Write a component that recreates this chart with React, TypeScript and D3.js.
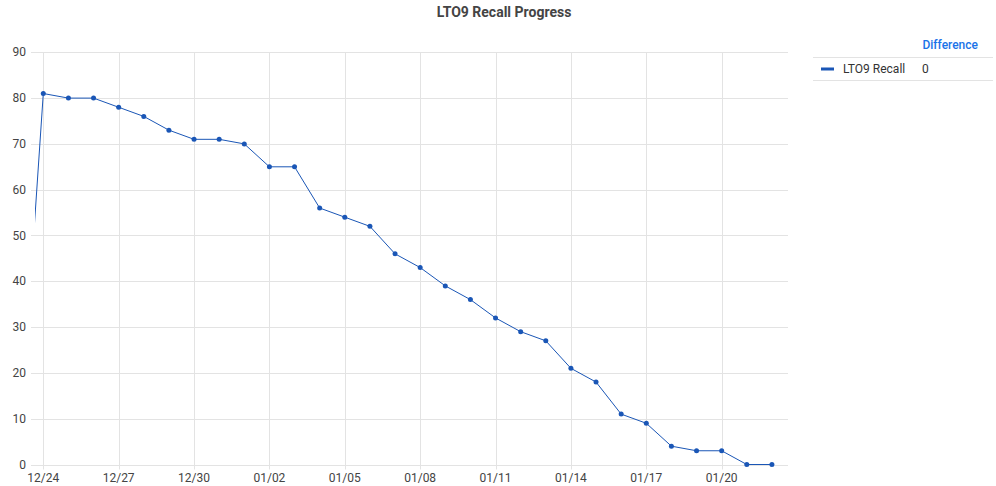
import { useEffect, useRef } from "react";
import * as d3 from "d3";

const dates = [
  "2023-12-23", "2023-12-24", "2023-12-25", "2023-12-26", "2023-12-27", "2023-12-28",
  "2023-12-29", "2023-12-30", "2023-12-31", "2024-01-01", "2024-01-02", "2024-01-03",
  "2024-01-04", "2024-01-05", "2024-01-06", "2024-01-07", "2024-01-08", "2024-01-09",
  "2024-01-10", "2024-01-11", "2024-01-12", "2024-01-13", "2024-01-14", "2024-01-15",
  "2024-01-16", "2024-01-17", "2024-01-18", "2024-01-19", "2024-01-20", "2024-01-21",
  "2024-01-22",
];
const recall = [
  0, 81, 80, 80, 78, 76, 73, 71, 71, 70, 65, 65, 56, 54, 52, 46, 43, 39, 36, 32, 29,
  27, 21, 18, 11, 9, 4, 3, 3, 0, 0,
];
const yTicks = [0, 10, 20, 30, 40, 50, 60, 70, 80, 90];
const xTickDates = [
  "2023-12-24", "2023-12-27", "2023-12-30", "2024-01-02", "2024-01-05",
  "2024-01-08", "2024-01-11", "2024-01-14", "2024-01-17", "2024-01-20",
];
const seriesName = "LTO9 Recall";
const legendHeader = "Difference";
const legendValue = "0";

const parse = d3.timeParse("%Y-%m-%d");
const DAY = 86400000;

export default function App() {
  const svgRef = useRef<SVGSVGElement>(null);

  useEffect(() => {
    const width = 996;
    const height = 486;
    const svg = d3.select(svgRef.current).attr("width", width).attr("height", height);
    svg.selectAll("*").remove();

    const data = dates.map((d, i) => ({ date: parse(d) as Date, value: recall[i] }));
    const first = parse("2023-12-24") as Date;
    const last = parse("2024-01-22") as Date;

    const left = 35;
    const right = 788;
    const top = 52.3;
    const bottom = 464.5;

    const x = d3
      .scaleTime()
      .domain([new Date(+first - 0.33 * DAY), new Date(+last + 0.64 * DAY)])
      .range([left, right]);
    const y = d3.scaleLinear().domain([0, 90]).range([bottom, top]);

    const font = "Roboto, sans-serif";
    const axisColor = "#444";
    const gridColor = "#e3e3e3";

    // Title
    svg
      .append("text")
      .attr("x", 504)
      .attr("y", 12)
      .attr("text-anchor", "middle")
      .attr("dominant-baseline", "central")
      .attr("font-family", font)
      .attr("font-size", 14)
      .attr("font-weight", "bold")
      .attr("fill", "#444")
      .text("LTO9 Recall Progress");

    // horizontal grid + y labels
    const yg = svg.append("g");
    yg.selectAll("line")
      .data(yTicks)
      .enter()
      .append("line")
      .attr("x1", 31)
      .attr("x2", right)
      .attr("y1", (d) => Math.round(y(d)) + 0.5)
      .attr("y2", (d) => Math.round(y(d)) + 0.5)
      .attr("stroke", gridColor);
    yg.selectAll("text")
      .data(yTicks)
      .enter()
      .append("text")
      .attr("x", 26)
      .attr("y", (d) => y(d))
      .attr("text-anchor", "end")
      .attr("dominant-baseline", "central")
      .attr("font-family", font)
      .attr("font-size", 12)
      .attr("fill", axisColor)
      .text((d) => d);

    // vertical grid + x labels
    const xt = xTickDates.map((d) => parse(d) as Date);
    const xg = svg.append("g");
    xg.selectAll("line")
      .data(xt)
      .enter()
      .append("line")
      .attr("x1", (d) => Math.round(x(d)) + 0.5)
      .attr("x2", (d) => Math.round(x(d)) + 0.5)
      .attr("y1", top)
      .attr("y2", bottom + 5)
      .attr("stroke", gridColor);
    xg.selectAll("text")
      .data(xt)
      .enter()
      .append("text")
      .attr("x", (d) => x(d))
      .attr("y", 478)
      .attr("text-anchor", "middle")
      .attr("dominant-baseline", "central")
      .attr("font-family", font)
      .attr("font-size", 12)
      .attr("fill", axisColor)
      .text((d) => d3.timeFormat("%m/%d")(d));

    // clip the plot area
    svg
      .append("clipPath")
      .attr("id", "plot-clip")
      .append("rect")
      .attr("x", left)
      .attr("y", 0)
      .attr("width", right - left)
      .attr("height", height);

    const lineColor = "#1a56b6";
    const line = d3
      .line<{ date: Date; value: number }>()
      .x((d) => x(d.date))
      .y((d) => y(d.value));

    const plot = svg.append("g").attr("clip-path", "url(#plot-clip)");
    plot
      .append("path")
      .datum(data)
      .attr("d", line)
      .attr("fill", "none")
      .attr("stroke", lineColor)
      .attr("stroke-width", 1);

    plot
      .selectAll("circle")
      .data(data)
      .enter()
      .append("circle")
      .attr("cx", (d) => x(d.date))
      .attr("cy", (d) => y(d.value))
      .attr("r", 2.5)
      .attr("fill", lineColor);

    // Legend table
    const lg = svg.append("g").attr("font-family", font).attr("font-size", 12);
    lg.append("text")
      .attr("x", 978)
      .attr("y", 45)
      .attr("text-anchor", "end")
      .attr("dominant-baseline", "central")
      .attr("font-weight", 500)
      .attr("fill", "#1a73e8")
      .text(legendHeader);
    lg.append("line")
      .attr("x1", 813)
      .attr("x2", 993)
      .attr("y1", 57.5)
      .attr("y2", 57.5)
      .attr("stroke", gridColor);
    lg.append("rect")
      .attr("x", 821)
      .attr("y", 67.5)
      .attr("width", 13)
      .attr("height", 3)
      .attr("fill", lineColor);
    lg.append("text")
      .attr("x", 843)
      .attr("y", 69)
      .attr("dominant-baseline", "central")
      .attr("fill", "#333")
      .text(seriesName);
    lg.append("text")
      .attr("x", 922)
      .attr("y", 69)
      .attr("dominant-baseline", "central")
      .attr("fill", "#333")
      .text(legendValue);
    lg.append("line")
      .attr("x1", 813)
      .attr("x2", 993)
      .attr("y1", 80.5)
      .attr("y2", 80.5)
      .attr("stroke", gridColor);
  }, []);

  return (
    <svg
      ref={svgRef}
      style={{ position: "absolute", left: 0, top: 0, background: "#fff" }}
    />
  );
}
